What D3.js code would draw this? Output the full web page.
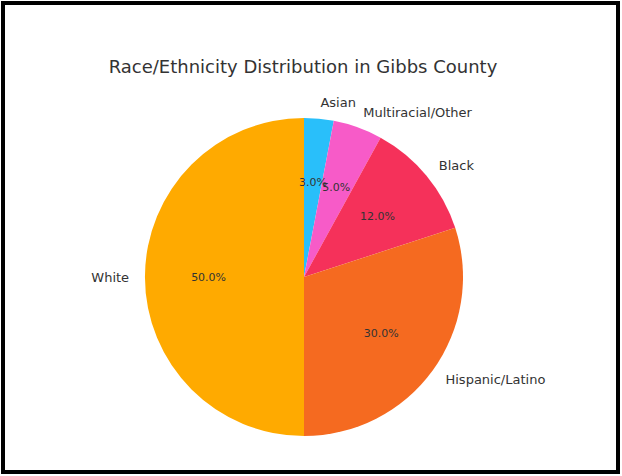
<!DOCTYPE html>
<html><head><meta charset="utf-8">
<script src="https://cdn.jsdelivr.net/npm/d3@7"></script>
<style>body{margin:0;background:#fff}text{font-family:"DejaVu Sans",sans-serif}</style>
</head><body><svg id="c" width="622" height="476"></svg>
<script>
const categories=["Asian","Multiracial/Other","Black","Hispanic/Latino","White"];
const values=[3,5,12,30,50];
const colors=["#29BFFA","#F75BC8","#F5315A","#F56A20","#FFAA00"];
const svg=d3.select("#c");
svg.append("rect").attr("x",3).attr("y",3).attr("width",615).attr("height",469).attr("fill","#fff").attr("stroke","#000").attr("stroke-width",4);
svg.append("text").attr("x",303).attr("y",73).attr("text-anchor","middle").attr("font-size",18).attr("fill","#333").text("Race/Ethnicity Distribution in Gibbs County");
const cx=304,cy=277,r=159;
const g=svg.append("g").attr("transform",`translate(${cx},${cy})`);
const pie=d3.pie().sort(null).value(d=>d)(values);
const arc=d3.arc().innerRadius(0).outerRadius(r);
g.selectAll("path").data(pie).join("path").attr("d",arc).attr("fill",(d,i)=>colors[i]);
pie.forEach((d,i)=>{
  const a=(d.startAngle+d.endAngle)/2;
  const sx=Math.sin(a),sy=-Math.cos(a);
  g.append("text").attr("x",sx*r*0.6).attr("y",sy*r*0.6).attr("dy","0.35em").attr("text-anchor","middle").attr("font-size",11).attr("fill","#333").text(values[i].toFixed(1)+"%");
  g.append("text").attr("x",sx*r*1.1).attr("y",sy*r*1.1).attr("dy","0.35em").attr("text-anchor",sx>0.01?"start":(sx<-0.01?"end":"middle")).attr("font-size",13).attr("fill","#333").text(categories[i]);
});
</script></body></html>
